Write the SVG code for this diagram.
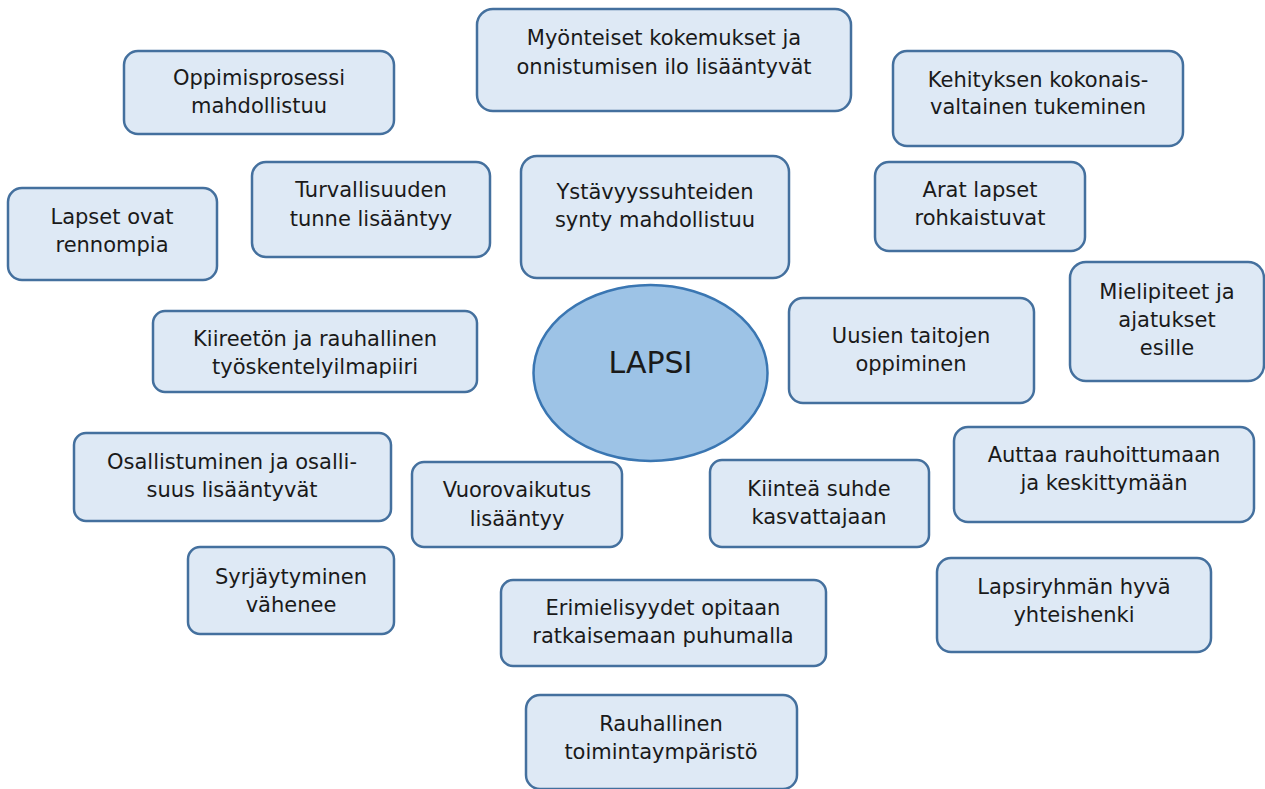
<svg xmlns="http://www.w3.org/2000/svg" width="1265" height="789" viewBox="0 0 1265 789">
<style>
.b{fill:#dee9f5;stroke:#44709e;stroke-width:2.5}
.t{font-family:"DejaVu Sans",sans-serif;font-size:21px;fill:#1a1a1a;text-anchor:middle}
</style>
<rect width="1265" height="789" fill="#fff"/>
<g id="connectors"></g>
<g id="n1"><rect class="b" x="477" y="9" width="374" height="102" rx="16"/><text class="t" x="664" y="45">Myönteiset kokemukset ja</text><text class="t" x="664" y="74">onnistumisen ilo lisääntyvät</text></g>
<g id="n2"><rect class="b" x="124" y="51" width="270" height="83" rx="14"/><text class="t" x="259" y="85">Oppimisprosessi</text><text class="t" x="259" y="113">mahdollistuu</text></g>
<g id="n3"><rect class="b" x="893" y="51" width="290" height="95" rx="14"/><text class="t" x="1038" y="87">Kehityksen kokonais-</text><text class="t" x="1038" y="114">valtainen tukeminen</text></g>
<g id="n4"><rect class="b" x="252" y="162" width="238" height="95" rx="14"/><text class="t" x="371" y="197">Turvallisuuden</text><text class="t" x="371" y="226">tunne lisääntyy</text></g>
<g id="n5"><rect class="b" x="521" y="156" width="268" height="122" rx="16"/><text class="t" x="655" y="199">Ystävyyssuhteiden</text><text class="t" x="655" y="227">synty mahdollistuu</text></g>
<g id="n6"><rect class="b" x="875" y="162" width="210" height="89" rx="14"/><text class="t" x="980" y="197">Arat lapset</text><text class="t" x="980" y="225">rohkaistuvat</text></g>
<g id="n7"><rect class="b" x="8" y="188" width="209" height="92" rx="14"/><text class="t" x="112" y="224">Lapset ovat</text><text class="t" x="112" y="252">rennompia</text></g>
<g id="n8"><rect class="b" x="1070" y="262" width="194" height="119" rx="16"/><text class="t" x="1167" y="299">Mielipiteet ja</text><text class="t" x="1167" y="327">ajatukset</text><text class="t" x="1167" y="355">esille</text></g>
<g id="n9"><rect class="b" x="789" y="298" width="245" height="105" rx="14"/><text class="t" x="911" y="343">Uusien taitojen</text><text class="t" x="911" y="371">oppiminen</text></g>
<g id="n10"><rect class="b" x="153" y="311" width="324" height="81" rx="12"/><text class="t" x="315" y="346">Kiireetön ja rauhallinen</text><text class="t" x="315" y="374">työskentelyilmapiiri</text></g>
<g id="lapsi"><ellipse cx="650.5" cy="373" rx="117" ry="88" fill="#9dc3e6" stroke="#3a76b2" stroke-width="2.5"/><text x="650.5" y="373" font-family="DejaVu Sans,sans-serif" font-size="30" fill="#1a1a1a" text-anchor="middle">LAPSI</text></g>
<g id="n12"><rect class="b" x="74" y="433" width="317" height="88" rx="12"/><text class="t" x="232" y="469">Osallistuminen ja osalli-</text><text class="t" x="232" y="497">suus lisääntyvät</text></g>
<g id="n13"><rect class="b" x="412" y="462" width="210" height="85" rx="12"/><text class="t" x="517" y="497">Vuorovaikutus</text><text class="t" x="517" y="526">lisääntyy</text></g>
<g id="n14"><rect class="b" x="710" y="460" width="219" height="87" rx="12"/><text class="t" x="819" y="496">Kiinteä suhde</text><text class="t" x="819" y="524">kasvattajaan</text></g>
<g id="n15"><rect class="b" x="954" y="427" width="300" height="95" rx="14"/><text class="t" x="1104" y="462">Auttaa rauhoittumaan</text><text class="t" x="1104" y="490">ja keskittymään</text></g>
<g id="n16"><rect class="b" x="188" y="547" width="206" height="87" rx="12"/><text class="t" x="291" y="584">Syrjäytyminen</text><text class="t" x="291" y="612">vähenee</text></g>
<g id="n17"><rect class="b" x="501" y="580" width="325" height="86" rx="12"/><text class="t" x="663" y="615">Erimielisyydet opitaan</text><text class="t" x="663" y="643">ratkaisemaan puhumalla</text></g>
<g id="n18"><rect class="b" x="937" y="558" width="274" height="94" rx="14"/><text class="t" x="1074" y="594">Lapsiryhmän hyvä</text><text class="t" x="1074" y="622">yhteishenki</text></g>
<g id="n19"><rect class="b" x="526" y="695" width="271" height="94" rx="14"/><text class="t" x="661" y="731">Rauhallinen</text><text class="t" x="661" y="759">toimintaympäristö</text></g>
</svg>
